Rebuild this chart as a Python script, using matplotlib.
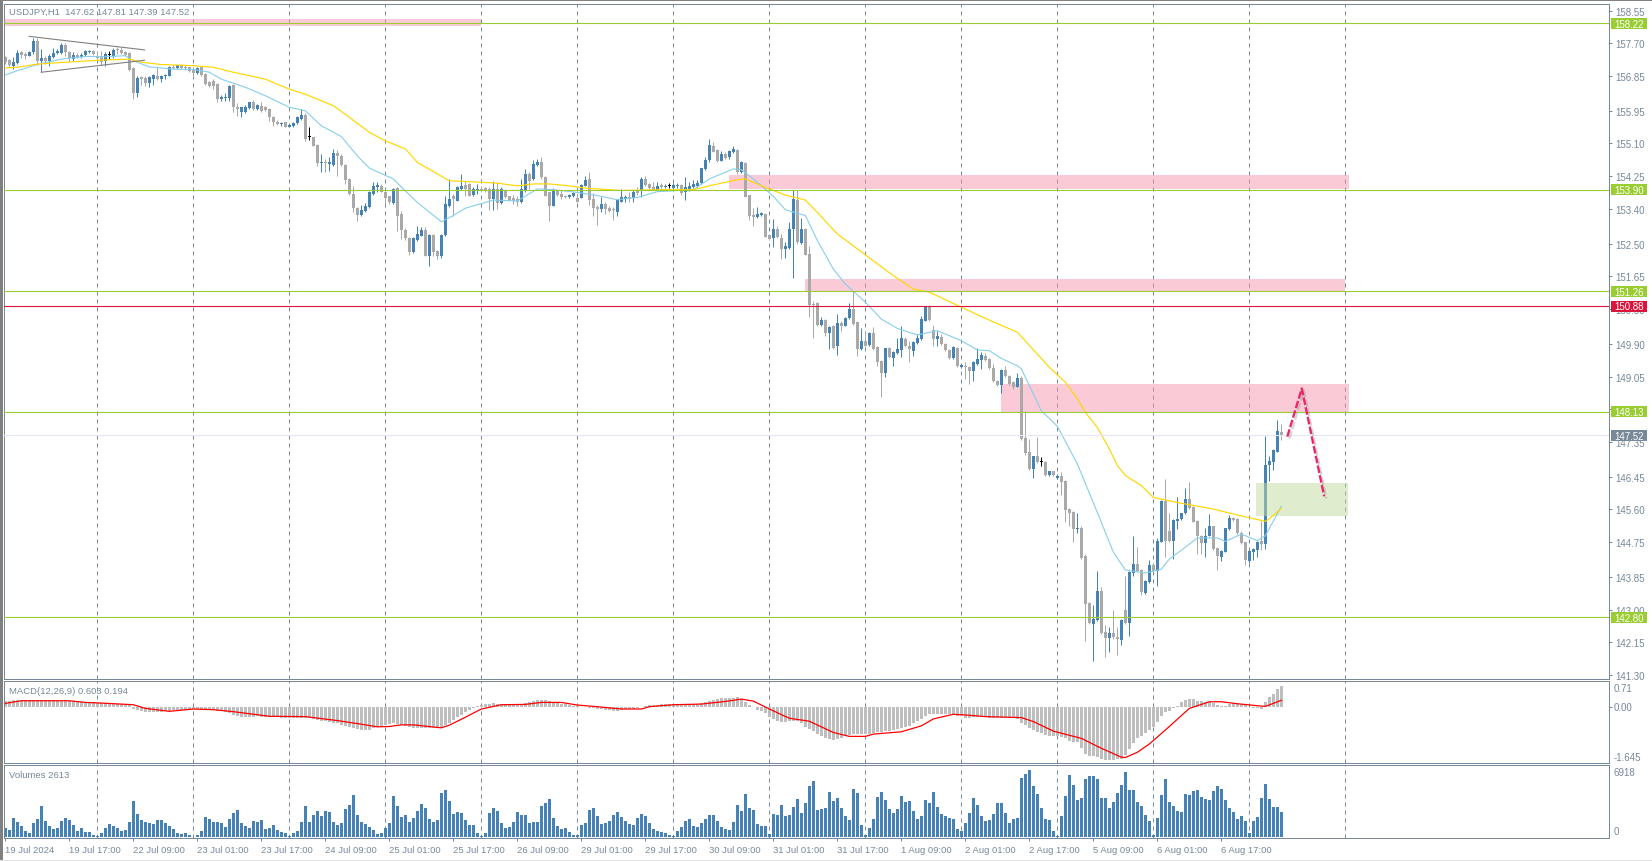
import matplotlib
matplotlib.use("Agg")
import matplotlib.pyplot as plt
import matplotlib.patheffects as pe
from matplotlib.patches import Rectangle
from matplotlib.transforms import blended_transform_factory

symbol_title = "USDJPY,H1  147.62 147.81 147.39 147.52"
macd_title = "MACD(12,26,9) 0.603 0.194"
volume_title = "Volumes 2613"

opens = [
157.34,157.27,157.12,157.19,157.47,157.42,157.36,157.47,157.77,157.25,
157.31,157.23,157.34,157.44,157.45,157.66,157.48,157.29,157.40,157.34,
157.40,157.48,157.51,157.36,157.36,157.25,157.40,157.38,157.55,157.53,
157.47,157.44,157.05,156.40,156.82,156.80,156.67,156.77,156.84,156.77,
156.84,156.86,157.09,157.05,157.13,157.09,157.08,157.02,156.93,157.08,
156.90,156.69,156.73,156.64,156.25,156.29,156.29,156.62,156.04,155.92,
155.91,156.02,156.17,156.0,156.08,156.04,156.0,155.79,155.67,155.61,
155.66,155.54,155.56,155.63,155.73,155.85,155.26,155.26,155.06,154.59,
154.61,154.57,154.55,154.85,154.78,154.55,154.18,153.80,153.42,153.24,
153.35,153.44,153.79,153.96,154.0,153.85,153.73,153.55,153.94,153.27,
152.86,152.64,152.27,152.60,152.71,152.86,152.17,152.72,152.30,152.17,
152.73,153.47,153.73,153.61,153.93,154.02,154.05,153.76,153.90,153.92,
153.94,153.92,153.66,153.92,153.55,153.90,153.73,153.68,153.66,153.57,
153.87,154.31,154.18,154.55,154.63,154.22,153.83,153.49,153.88,153.79,
153.73,153.70,153.73,153.69,153.69,154.0,154.18,153.66,153.46,153.40,
153.53,153.42,153.40,153.33,153.59,153.66,153.70,153.69,153.89,153.88,
154.18,154.05,153.96,153.90,154.02,153.97,154.0,153.94,154.0,154.03,
153.83,153.92,153.96,154.0,154.08,154.44,154.67,155.04,154.93,154.65,
154.83,154.74,154.87,154.93,154.35,154.59,153.75,153.24,153.18,153.24,
153.28,152.72,152.65,152.88,152.65,152.36,152.39,152.88,153.62,152.51,
152.88,152.23,150.93,150.95,150.39,150.52,150.18,150.35,149.83,150.44,
150.37,150.56,150.80,150.46,149.77,149.98,149.87,150.18,149.81,149.46,
149.14,149.78,149.53,149.65,149.74,150.03,149.85,149.70,149.92,150.03,
150.50,150.87,150.27,150.03,150.07,149.90,149.75,149.53,149.78,149.29,
149.33,149.31,149.19,149.38,149.49,149.59,149.51,149.28,148.94,148.84,
149.22,149.07,148.92,148.79,149.01,147.45,147.08,146.65,146.98,146.84,
146.82,146.50,146.59,146.42,146.46,146.34,145.61,145.54,145.09,145.13,
144.38,143.17,142.62,142.74,143.49,142.41,142.27,142.39,142.30,142.22,
142.99,142.65,143.95,144.18,144.03,143.43,143.71,144.16,144.0,144.76,
145.83,145.05,144.79,145.31,145.35,145.51,145.87,145.66,145.30,144.92,
144.73,144.92,145.16,144.60,144.37,144.50,145.09,145.38,145.35,145.0,
144.75,144.25,144.50,144.55,144.79,144.70,146.75,146.82,147.10,147.62]

highs = [
157.38,157.29,157.34,157.53,157.51,157.47,157.51,157.85,157.83,157.55,
157.36,157.42,157.58,157.55,157.72,157.70,157.51,157.47,157.45,157.45,
157.53,157.53,157.53,157.48,157.49,157.47,157.49,157.57,157.60,157.60,
157.51,157.47,157.08,156.84,156.84,156.84,156.86,156.91,157.08,156.88,
156.90,157.12,157.15,157.15,157.16,157.14,157.09,157.05,157.08,157.09,
156.93,156.73,156.77,156.67,156.36,156.40,156.63,156.64,156.15,156.06,
156.10,156.18,156.24,156.12,156.18,156.08,156.01,155.82,155.71,155.67,
155.67,155.60,155.67,155.82,156.0,155.88,155.52,155.28,155.09,154.83,
154.70,154.74,154.96,154.94,154.83,154.57,154.20,153.99,153.44,153.50,
153.55,153.87,154.09,154.09,154.05,153.87,153.74,153.94,153.96,153.35,
152.90,152.66,152.66,152.97,152.92,152.92,152.75,152.75,152.34,152.75,
153.74,154.19,153.79,154.0,154.31,154.13,154.07,153.96,154.05,153.99,
153.98,153.96,154.12,154.09,153.96,153.92,153.74,153.76,153.74,154.18,
154.44,154.35,154.67,154.71,154.74,154.25,153.85,153.94,153.90,153.90,
153.76,153.80,153.83,153.82,154.04,154.25,154.35,153.82,153.50,153.70,
153.59,153.47,153.44,153.66,153.92,153.76,153.85,153.88,153.96,154.24,
154.25,154.08,154.09,154.09,154.08,154.04,154.08,154.08,154.08,154.06,
154.22,154.09,154.14,154.14,154.47,154.74,155.22,155.13,154.96,154.91,
154.87,154.92,155.03,154.96,154.65,154.63,153.76,153.42,153.44,153.31,
153.30,152.75,153.14,152.97,152.75,152.54,153.05,153.88,153.90,153.17,
152.90,152.43,151.0,150.98,150.59,150.55,150.37,150.39,150.67,150.50,
150.59,150.95,151.28,150.49,150.30,150.20,150.20,150.33,149.83,149.49,
149.80,149.81,149.72,150.04,150.35,150.07,149.98,149.98,150.15,150.63,
150.89,150.91,150.39,150.24,150.15,149.92,149.77,149.85,149.81,149.38,
149.44,149.33,149.45,149.78,149.68,149.66,149.53,149.38,148.97,149.25,
149.32,149.09,148.94,149.14,149.07,148.16,147.43,147.0,147.47,146.95,
146.85,146.61,146.61,146.52,146.56,146.36,145.63,145.57,145.52,145.16,
144.44,143.19,143.12,144.0,143.58,142.60,142.54,142.99,142.54,142.75,
143.88,144.0,144.92,144.63,144.05,143.77,144.29,144.18,144.87,145.85,
146.39,145.52,145.35,145.91,145.52,146.16,146.30,145.68,145.33,144.94,
145.11,145.48,145.18,144.62,144.55,145.13,145.46,145.40,145.37,145.03,
144.76,144.54,144.59,144.79,145.31,147.51,146.98,147.17,147.92,147.81]

lows = [
157.16,157.08,157.03,157.16,157.31,157.29,157.36,157.42,157.15,156.95,
157.16,157.12,157.32,157.42,157.42,157.38,157.23,157.23,157.31,157.31,
157.38,157.45,157.40,157.27,157.15,157.12,157.29,157.31,157.42,157.42,
157.36,156.99,156.25,156.31,156.63,156.60,156.56,156.62,156.76,156.69,
156.77,156.84,157.03,157.03,157.03,157.02,156.96,156.82,156.90,156.84,
156.62,156.56,156.51,156.17,156.21,156.21,156.21,155.91,155.82,155.80,
155.89,156.0,155.98,155.98,155.93,155.95,155.69,155.56,155.58,155.56,
155.52,155.52,155.54,155.60,155.72,155.17,155.19,155.03,154.52,154.35,
154.37,154.39,154.52,154.26,154.52,154.05,153.76,153.31,153.10,153.23,
153.31,153.42,153.77,153.85,153.83,153.53,153.53,153.54,152.84,152.62,
152.60,152.20,152.26,152.58,152.69,152.17,151.93,152.19,152.10,152.14,
152.71,153.44,153.23,153.60,153.90,153.74,153.73,153.74,153.79,153.83,
153.83,153.38,153.38,153.40,153.54,153.68,153.61,153.53,153.48,153.55,
153.85,153.92,154.15,154.52,154.19,153.73,153.10,153.47,153.73,153.66,
153.68,153.68,153.71,153.57,153.68,153.99,153.51,153.23,152.98,153.31,
153.27,153.31,153.12,153.21,153.57,153.57,153.59,153.59,153.75,153.72,
154.0,153.92,153.88,153.87,153.92,153.94,153.94,153.92,153.95,153.76,
153.62,153.87,153.94,153.97,154.06,154.42,154.63,154.87,154.63,154.64,
154.70,154.71,154.85,154.31,154.33,153.70,153.11,152.97,153.17,153.21,
152.66,152.60,152.40,152.64,152.10,152.14,152.36,151.61,152.49,152.48,
152.20,150.59,150.05,150.37,150.37,150.11,149.77,149.77,149.62,150.24,
150.35,150.55,150.39,149.59,149.75,149.83,149.85,149.75,149.33,148.51,
149.03,149.54,149.33,149.63,149.57,149.81,149.42,149.59,149.90,150.01,
150.48,150.50,149.83,149.85,149.87,149.72,149.51,149.51,149.29,149.26,
148.99,148.86,148.94,149.36,149.25,149.45,149.25,148.90,148.81,148.62,
149.05,148.83,148.73,148.77,147.40,147.01,146.62,146.42,146.80,146.72,
146.48,146.48,146.48,146.39,145.97,145.28,145.18,144.76,145.0,144.31,
142.19,142.62,141.67,142.71,142.37,141.76,141.89,142.24,141.83,142.08,
142.62,142.32,143.88,143.98,143.38,143.40,143.69,143.98,143.62,144.75,
144.36,144.76,144.31,145.09,145.33,145.49,145.61,145.27,144.44,144.44,
144.36,144.90,144.55,144.03,144.27,144.49,145.07,145.30,144.96,144.70,
144.17,144.20,144.29,144.36,144.55,144.57,146.33,146.62,147.08,147.39]

closes = [
157.21,157.15,157.21,157.44,157.40,157.36,157.47,157.77,157.25,157.31,
157.25,157.38,157.45,157.49,157.66,157.48,157.31,157.40,157.34,157.40,
157.51,157.51,157.42,157.33,157.21,157.42,157.40,157.53,157.53,157.45,
157.40,157.01,156.40,156.80,156.77,156.67,156.82,156.88,156.77,156.84,
156.88,157.09,157.05,157.13,157.05,157.06,156.99,156.93,157.05,156.88,
156.64,156.60,156.60,156.25,156.31,156.31,156.60,156.04,156.0,156.04,
156.06,156.17,156.0,156.10,155.95,155.98,155.78,155.65,155.60,155.63,
155.54,155.58,155.63,155.78,155.85,155.22,155.26,155.04,154.59,154.61,
154.59,154.61,154.85,154.77,154.55,154.16,153.79,153.42,153.24,153.38,
153.47,153.85,154.0,154.02,153.85,153.69,153.57,153.92,153.23,152.86,
152.64,152.27,152.64,152.75,152.86,152.19,152.72,152.27,152.19,152.73,
153.53,153.66,153.66,153.96,154.0,153.92,153.74,153.92,153.93,153.88,
153.87,153.67,153.92,153.55,153.93,153.70,153.63,153.61,153.59,153.92,
154.31,154.13,154.57,154.61,154.22,153.74,153.48,153.90,153.76,153.72,
153.70,153.77,153.81,153.59,154.02,154.15,153.63,153.43,153.40,153.53,
153.40,153.36,153.38,153.63,153.70,153.70,153.66,153.83,153.82,154.18,
154.02,153.94,153.90,154.0,153.96,153.99,154.0,154.03,154.01,153.82,
153.96,154.0,154.05,154.08,154.46,154.67,155.06,154.89,154.65,154.83,
154.72,154.90,154.96,154.35,154.61,153.72,153.23,153.20,153.28,153.29,
152.68,152.62,152.88,152.66,152.36,152.43,152.88,153.66,152.55,152.88,
152.21,150.91,150.91,150.39,150.52,150.18,150.33,149.80,150.44,150.37,
150.56,150.80,150.41,149.77,149.96,149.85,150.18,149.77,149.44,149.14,
149.78,149.57,149.68,149.77,150.04,149.83,149.77,149.95,150.05,150.54,
150.87,150.52,150.03,150.09,149.90,149.74,149.53,149.81,149.33,149.35,
149.29,149.20,149.42,149.51,149.61,149.48,149.26,148.93,148.84,149.22,
149.07,148.86,148.77,149.01,147.43,147.06,146.65,146.98,146.82,146.84,
146.50,146.59,146.50,146.47,146.32,145.59,145.52,145.09,145.13,144.34,
143.15,142.65,142.75,143.49,142.39,142.27,142.39,142.28,142.24,142.74,
142.65,143.98,144.18,144.0,143.46,143.74,144.16,144.0,144.78,145.83,
144.79,144.79,145.33,145.35,145.51,145.87,145.64,145.28,144.92,144.73,
144.92,145.18,144.57,144.40,144.53,145.12,145.38,145.33,144.99,144.73,
144.29,144.52,144.57,144.76,144.70,146.75,146.86,147.14,147.64,147.52]

volumes = [
930,720,1960,1550,1135,620,410,1445,1860,3200,
1650,1135,825,930,1650,1960,1755,1240,620,930,
515,515,205,100,410,930,1340,1135,930,620,
720,1550,3715,2375,1755,1550,1445,1340,1755,1755,
1445,1135,825,410,310,410,205,40,205,620,
2065,1860,1550,1550,1445,1030,1860,2475,2785,1445,
1135,930,1650,1580,1755,825,930,1240,720,515,
410,70,410,620,1550,3200,1550,2270,2685,2165,
2685,2580,1550,1240,1445,2890,3300,4335,2270,1550,
1340,1030,720,310,410,930,1445,4230,3200,2065,
2270,1550,1960,2685,3405,2995,1860,1550,1755,4540,
4850,3715,2375,2580,2475,1755,1240,1240,410,70,
410,2475,2995,2685,1445,930,1030,1550,2580,2270,
2270,1445,1550,1550,3200,3510,3920,1960,1135,825,
930,515,205,205,1240,1445,2785,2995,2165,1340,
1445,1650,2270,2580,2065,1650,1340,1240,1960,2375,
2165,1445,825,620,515,410,205,100,620,1030,
1650,1860,1135,1030,1445,1860,2270,2270,1650,1030,
825,720,1550,3300,2685,4440,2995,2785,1340,1135,
1135,310,2375,2270,3300,2165,2270,3095,3920,2475,
3510,5265,5780,2785,2890,2995,4645,3715,4025,2995,
2165,1755,4955,4540,1240,205,930,1860,4130,4645,
3820,2890,2475,2890,4230,3610,3715,2685,1860,2165,
3820,3510,4645,3095,2375,2165,1960,1860,825,620,
1445,2475,4025,3300,2165,1650,1755,2375,3510,3510,
2475,1445,1860,1960,6090,6500,6918,5265,4440,2995,
1860,1755,620,100,2165,4230,6400,5365,3820,4025,
5985,6295,6295,5985,4025,4025,2995,3610,4540,5365,
6710,4850,4850,3610,3200,2270,1650,205,1960,4335,
5985,3610,3200,2685,2580,4440,4335,4745,4850,4130,
3920,3820,4745,5265,4955,3820,2995,2580,1860,2165,
1650,410,1650,2065,4025,5470,3920,3095,3095,2613]

macd_hist = [
.18,.18,.19,.19,.19,.19,.21,.21,.19,.19,
.19,.19,.19,.19,.18,.17,.17,.16,.16,.14,
.14,.13,.13,.12,.12,.10,.09,.09,.08,.08,
.07,.06,-.07,-.10,-.12,-.15,-.16,-.17,-.17,-.16,
-.14,-.13,-.11,-.10,-.09,-.09,-.08,-.07,-.07,-.07,
-.08,-.09,-.10,-.12,-.14,-.17,-.20,-.24,-.27,-.30,
-.30,-.30,-.30,-.29,-.30,-.30,-.30,-.31,-.32,-.33,
-.34,-.34,-.34,-.35,-.35,-.35,-.35,-.38,-.40,-.42,
-.44,-.46,-.48,-.50,-.54,-.58,-.61,-.65,-.68,-.70,
-.70,-.70,-.66,-.60,-.57,-.54,-.52,-.50,-.52,-.55,
-.58,-.62,-.64,-.65,-.65,-.65,-.65,-.65,-.64,-.60,
-.55,-.48,-.40,-.32,-.25,-.15,-.10,-.05,.01,.05,
.07,.08,.10,.09,.08,.08,.08,.08,.08,.09,
.11,.13,.16,.19,.20,.19,.16,.14,.12,.09,
.08,.06,.03,.02,-.01,-.02,-.03,-.05,-.06,-.08,
-.10,-.11,-.12,-.12,-.10,-.08,-.07,-.06,-.04,-.02,
.02,.04,.05,.06,.07,.08,.08,.08,.08,.08,
.08,.08,.08,.09,.10,.13,.16,.20,.24,.25,
.26,.26,.27,.29,.23,.15,.05,-.02,-.09,-.14,
-.20,-.32,-.37,-.42,-.45,-.47,-.44,-.43,-.42,-.50,
-.60,-.68,-.75,-.83,-.90,-.94,-.98,-1.0,-.98,-.96,
-.88,-.85,-.84,-.84,-.83,-.83,-.82,-.80,-.78,-.76,
-.74,-.73,-.72,-.68,-.66,-.62,-.58,-.50,-.42,-.36,
-.28,-.22,-.22,-.22,-.22,-.22,-.22,-.24,-.27,-.28,
-.34,-.34,-.32,-.32,-.32,-.32,-.33,-.33,-.34,-.34,
-.34,-.34,-.34,-.36,-.48,-.55,-.65,-.72,-.76,-.80,
-.85,-.88,-.88,-.90,-.92,-.95,-1.03,-1.06,-1.08,-1.25,
-1.43,-1.48,-1.50,-1.52,-1.57,-1.60,-1.60,-1.60,-1.57,-1.57,
-1.47,-1.29,-1.10,-.96,-.88,-.80,-.70,-.60,-.47,-.27,
-.17,-.12,-.05,.03,.13,.21,.23,.23,.18,.16,
.13,.13,.10,.05,.01,.03,.08,.10,.10,.08,
.05,-.02,-.05,-.05,-.07,.13,.28,.38,.53,.64]

signal_bars = [0,4,16,20,24,32,35,41,47,52,57,66,75,83,89,93,96,99,102,109,111,115,119,124,130,
134,139,141,143,148,154,159,161,167,174,180,184,187,191,196,201,207,211,215,217,224,229,232,237,240,
245,254,257,262,269,274,279,280,283,286,291,296,301,304,308,313,315,319]
signal_vals = [.10,.18,.18,.13,.11,.06,-.05,-.14,-.07,-.09,-.15,-.29,-.30,-.42,-.53,-.61,-.60,-.55,-.55,-.64,
-.56,-.32,-.07,.06,.07,.13,.13,.09,.05,0,-.07,-.07,0,.06,.08,.16,.23,.17,-.07,-.35,-.44,-.78,-.90,-.90,-.83,
-.76,-.58,-.37,-.23,-.25,-.30,-.33,-.45,-.74,-.96,-1.26,-1.53,-1.54,-1.38,-1.13,-.60,-.05,.15,.15,.09,.03,.01,.194]

slow_ma_bars = [0,3,8,15,25,31,34,39,47,52,57,65,71,75,82,85,91,95,100,103,108,111,116,123,128,132,136,141,145,154,
163,172,176,183,185,190,195,200,203,208,215,222,227,231,239,245,253,261,265,268,270,273,276,278,280,284,287,294,302,307,315,317,319]
slow_ma_vals = [157.06,157.08,157.16,157.21,157.27,157.29,157.21,157.15,157.12,157.08,156.95,156.77,156.51,156.38,156.08,
155.86,155.39,155.17,154.96,154.61,154.31,154.13,154.11,154.07,154.0,154.05,154.05,154.0,153.94,153.88,
153.90,153.90,154.0,154.16,154.18,153.96,153.76,153.63,153.31,152.75,152.21,151.67,151.32,151.24,150.85,
150.56,150.20,149.29,148.90,148.47,148.12,147.73,147.17,146.74,146.48,146.22,145.91,145.76,145.61,145.48,145.29,145.44,145.63]

fast_ma_bars = [0,3,8,14,20,25,30,32,36,42,47,51,54,60,65,71,75,79,84,88,91,97,100,103,109,112,115,122,128,133,
137,143,148,153,158,163,172,176,182,184,187,192,195,200,203,207,210,215,219,223,228,233,239,243,246,
249,253,254,259,263,268,273,277,280,285,289,291,295,298,303,305,309,313,315,319]
fast_ma_vals = [156.88,156.99,157.15,157.29,157.36,157.35,157.38,157.25,157.09,157.03,157.02,156.95,156.77,156.56,156.34,
156.04,155.95,155.56,155.28,154.78,154.46,154.18,153.87,153.57,153.07,153.23,153.42,153.63,153.61,153.92,
153.90,153.83,153.75,153.64,153.70,153.85,153.90,154.18,154.44,154.42,154.18,153.73,153.38,153.23,152.58,
151.84,151.45,150.98,150.54,150.30,150.13,150.24,149.98,149.74,149.72,149.52,149.33,149.25,148.16,147.76,
146.78,145.52,144.49,144.03,143.95,144.05,144.31,144.62,144.86,144.86,144.77,144.96,144.79,144.92,145.68]

level_prices = [158.22, 153.90, 151.26, 150.88, 148.13, 147.52, 142.80]
level_labels = ["158.22", "153.90", "151.26", "150.88", "148.13", "147.52", "142.80"]
level_colors = ["#9ACD32", "#9ACD32", "#9ACD32", "#DC143C", "#9ACD32", "#E6E6FA", "#9ACD32"]
tag_colors = ["#9ACD32", "#9ACD32", "#9ACD32", "#DC143C", "#9ACD32", "#778899", "#9ACD32"]

price_ticks = [158.55,157.70,156.85,155.95,155.10,154.25,153.40,152.50,151.65,150.80,149.90,149.05,
               148.20,147.35,146.45,145.60,144.75,143.85,143.00,142.15,141.30]

date_labels = ["19 Jul 2024","19 Jul 17:00","22 Jul 09:00","23 Jul 01:00","23 Jul 17:00","24 Jul 09:00",
               "25 Jul 01:00","25 Jul 17:00","26 Jul 09:00","29 Jul 01:00","29 Jul 17:00","30 Jul 09:00",
               "31 Jul 01:00","31 Jul 17:00","1 Aug 09:00","2 Aug 01:00","2 Aug 17:00","5 Aug 09:00",
               "6 Aug 01:00","6 Aug 17:00"]
date_bars = list(range(0, 320, 16))
day_bars = list(range(23, 336, 24))

zones_bar0 = [-1, 180.8, 199.9, 249.0]
zones_bar1 = [119, 335.9, 334.9, 335.9]
zones_low = [158.16, 153.92, 151.26, 148.12]
zones_high = [158.33, 154.28, 151.58, 148.855]
target_zone = (312.7, 335.6, 145.44, 146.29)

forecast_bars = [320.5, 324.1, 329.7]
forecast_vals = [147.49, 148.74, 145.94]
wedge_upper_bars = [6, 34.8]
wedge_upper_vals = [157.88, 157.53]
wedge_lower_bars = [9, 34.8]
wedge_lower_vals = [156.95, 157.26]

W, H = 1652, 862
AX = "#778899"
BLUE = "#4682B4"
GREY = "#A9A9A9"
plt.rcParams["font.family"] = ["Liberation Sans", "DejaVu Sans"]
FS = 7.0
TITLE_FS = 6.8
PX = 0.72

fig = plt.figure(figsize=(W / 100, H / 100), dpi=100, facecolor="white")
fig.add_artist(Rectangle((0, 1 - 1.5 / H), 1, 1.5 / H, transform=fig.transFigure, fc="#808080", ec="none"))
fig.add_artist(Rectangle((0, 0), 2.5 / W, 1, transform=fig.transFigure, fc="#808080", ec="none"))
fig.add_artist(Rectangle((0, 0), 1, 1.5 / H, transform=fig.transFigure, fc="#E4E4E4", ec="none"))


def panel(top, bottom):
    ax = fig.add_axes([4 / W, 1 - bottom / H, 1605 / W, (bottom - top) / H])
    ax.set_xlim(-0.325, 400.9)
    for s in ax.spines.values():
        s.set_color(AX)
        s.set_linewidth(PX)
    ax.tick_params(colors=AX, labelcolor=AX, width=PX, length=2.2, labelsize=FS)
    ax.yaxis.tick_right()
    ax.set_xticks([])
    for b in day_bars:
        ax.axvline(b, color=AX, lw=PX, ls=(0, (4, 4)), zorder=1.2)
    return ax


bars = list(range(len(closes)))

# ---------- price panel
ax = panel(4.5, 680)
ax.set_ylim(141.198, 158.734)
ax.set_yticks(price_ticks)
ax.set_yticklabels([f"{v:.2f}" for v in price_ticks])
ax.tick_params(axis="y", pad=2.5)

for b0, b1, lo, hi in zip(zones_bar0, zones_bar1, zones_low, zones_high):
    ax.add_patch(Rectangle((b0, lo), b1 - b0, hi - lo, fc="#F799AF", alpha=0.5, ec="none", zorder=1.5))

MIN_BODY = 1 / 38.52
for b, o, h, l, c in zip(bars, opens, highs, lows, closes):
    col = BLUE if c > o else (GREY if c < o else "black")
    ax.vlines(b, l, h, color=col, lw=PX, zorder=2)
    low_edge = min(o, c)
    height = max(abs(c - o), MIN_BODY)
    ax.bar(b, height, bottom=low_edge, width=0.75, color=col, lw=0, zorder=2)

ax.add_patch(Rectangle((target_zone[0], target_zone[2]), target_zone[1] - target_zone[0],
                       target_zone[3] - target_zone[2], fc="#C1DB9F", alpha=0.5, ec="none", zorder=2.2))

ax.plot(fast_ma_bars, fast_ma_vals, color="#87CEEB", lw=0.8, zorder=3)
ax.plot(slow_ma_bars, slow_ma_vals, color="#FFD700", lw=0.85, zorder=3)
ax.plot(wedge_upper_bars, wedge_upper_vals, color="#808080", lw=0.8, zorder=3)
ax.plot(wedge_lower_bars, wedge_lower_vals, color="#808080", lw=0.8, zorder=3)

tx = blended_transform_factory(ax.transAxes, ax.transData)
for p, lab, lc, tc in zip(level_prices, level_labels, level_colors, tag_colors):
    ax.axhline(p, color=lc, lw=0.8, zorder=3.2)
    ax.add_patch(Rectangle((1 + 2 / 1605, p - 5.5 / 38.52), 36 / 1605, 11 / 38.52, transform=tx,
                           fc=tc, ec="none", clip_on=False, zorder=5))
    ax.text(1 + 20 / 1605, p - 0.3 / 38.52, lab, transform=tx, color="white", fontsize=FS, ha="center",
            va="center", clip_on=False, zorder=6)

ax.plot(forecast_bars, forecast_vals, color="#E8286A", lw=1.7, ls=(0, (3.2, 1.0)), zorder=4,
        path_effects=[pe.SimpleLineShadow(offset=(1.5, -1.5), shadow_color="#888888", alpha=0.35), pe.Normal()])
ax.text(5.3 / 1605, 1 - 8.2 / 675.5, symbol_title, transform=ax.transAxes, color=AX,
        fontsize=TITLE_FS, ha="left", va="center", zorder=6)

# ---------- MACD panel
ax2 = panel(682, 764)
ax2.set_ylim(-1.706, 0.779)
ax2.set_yticks([0.0])
ax2.set_yticklabels([""])
ax2.bar(bars, macd_hist, width=0.7, color="#BEBEBE", lw=0, zorder=2)
ax2.plot(signal_bars, signal_vals, color="#FF0000", lw=0.9, zorder=3)
ax2.text(5.3 / 1605, 1 - 9.7 / 82, macd_title, transform=ax2.transAxes, color=AX, fontsize=TITLE_FS,
         ha="left", va="center")
tx2 = blended_transform_factory(ax2.transAxes, ax2.transData)
for v, s, off in [(0.71, "0.71", -5), (0.0, "0.00", -0.6), (-1.645, "-1.645", 4.3)]:
    ax2.annotate(s, xy=(1 + 5 / 1605, v), xycoords=tx2, xytext=(0, off), textcoords="offset pixels",
                 color=AX, fontsize=FS, ha="left", va="center", annotation_clip=False)

# ---------- volume panel
ax3 = panel(766, 839)
ax3.set_ylim(-103, 7438)
ax3.set_yticks([])
ax3.bar(bars, volumes, width=0.75, color=BLUE, lw=0, zorder=2)
ax3.text(5.3 / 1605, 1 - 9.7 / 73, volume_title, transform=ax3.transAxes, color=AX, fontsize=TITLE_FS,
         ha="left", va="center")
tx3 = blended_transform_factory(ax3.transAxes, ax3.transData)
for v, s, off in [(6918, "6918", -2.3), (0, "0", 5.7)]:
    ax3.annotate(s, xy=(1 + 5 / 1605, v), xycoords=tx3, xytext=(0, off), textcoords="offset pixels",
                 color=AX, fontsize=FS, ha="left", va="center", annotation_clip=False)
ax3.set_xticks(date_bars)
ax3.set_xticklabels(date_labels, ha="left", fontsize=TITLE_FS)
ax3.tick_params(axis="x", pad=2.5, length=2.2)

fig.savefig("out.png", dpi=100, facecolor="white")
